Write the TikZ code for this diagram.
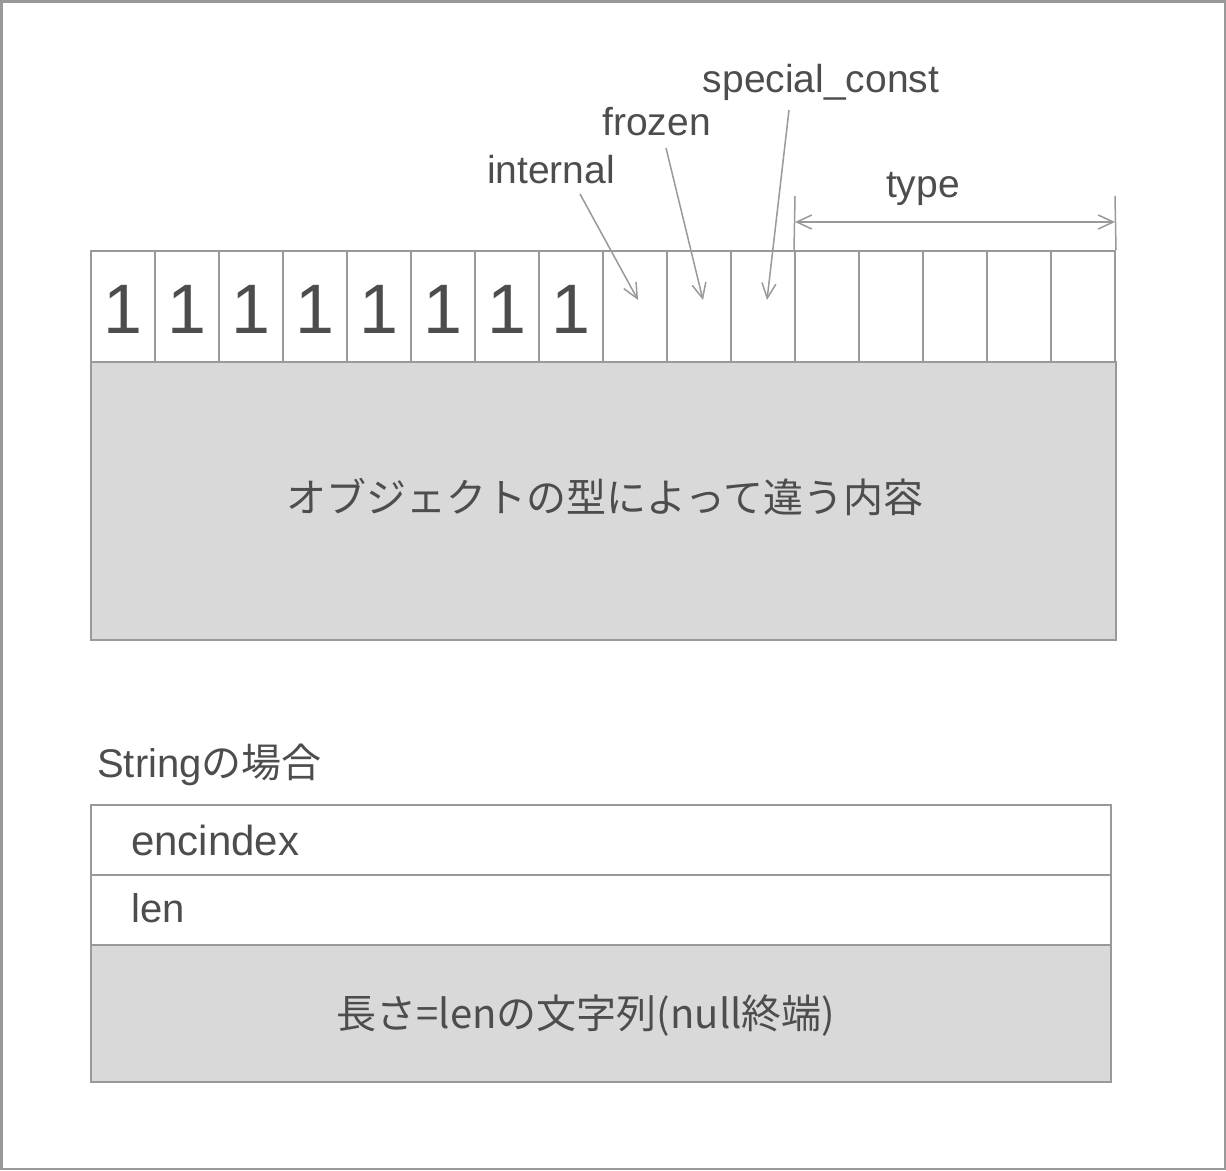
\documentclass[tikz,border=0pt]{standalone}
\usepackage{fontspec}
\setmainfont{Liberation Sans}
\newfontfamily\cjk{Noto Sans CJK JP}
\usetikzlibrary{arrows.meta}
\definecolor{linegray}{HTML}{999999}
\definecolor{fillgray}{HTML}{D9D9D9}
\definecolor{textgray}{HTML}{4D4D4D}
\begin{document}
\begin{tikzpicture}[x=1pt,y=-1pt,
  cell/.style={draw=linegray, line width=2pt, minimum width=64pt, minimum height=111pt, inner sep=0pt},
  graybox/.style={draw=linegray, line width=2pt, fill=fillgray, inner sep=0pt},
  rowbox/.style={draw=linegray, line width=2pt, fill=white, inner sep=0pt},
  txt/.style={text=textgray, inner sep=0pt},
  lbl/.style={txt, font=\fontsize{39}{47}\selectfont},
  big/.style={txt, font=\fontsize{40}{48}\selectfont},
  digit/.style={txt, font=\fontsize{70}{84}\selectfont},
  thinline/.style={draw=linegray, line width=1.5pt},
  arr/.style={thinline, -{Straight Barb[length=15pt, width=14pt, line width=1.5pt]}},
  dim/.style={thinline, {Straight Barb[length=15pt, width=14pt, line width=1.5pt]}-{Straight Barb[length=15pt, width=14pt, line width=1.5pt]}}
]
\useasboundingbox (0,0) rectangle (1226,1170);
\draw[draw=linegray, line width=2.5pt] (1.25,1.25) rectangle (1224.75,1168.75);

% content box
\node[graybox, minimum width=1025pt, minimum height=278pt] (body) at (603.5,501) {};
\node[big, font=\fontsize{40}{48}\selectfont\cjk] (bodytxt) at (605,497) {オブジェクトの型によって違う内容};

% bit cells
\foreach \i in {1,...,16} {
  \node[cell] (c\i) at ({91+64*(\i-0.5)},306.5) {};
}
\foreach \i in {1,...,8} {
  \node[digit, anchor=base] (d\i) at ({91+64*(\i-0.5)},333) {1};
}

% labels and arrows
\node[lbl, anchor=base] (lspecial) at (821,92) {special\_const};
\node[lbl, anchor=base] (lfrozen) at (656.5,135) {frozen};
\node[lbl, anchor=base] (linternal) at (551,183) {internal};
\coordinate (s1) at (580,194);
\coordinate (e1) at (638,300);
\coordinate (s2) at (666,148);
\coordinate (e2) at (703,300);
\coordinate (s3) at (789,110);
\coordinate (e3) at (767,300);
\draw[arr] (s1) -- (e1);
\draw[arr] (s2) -- (e2);
\draw[arr] (s3) -- (e3);

% type dimension
\coordinate (tl) at (795,196);
\coordinate (tr) at (1115,196);
\draw[thinline] (c12.north west) -- (tl);
\draw[thinline] (c16.north east) -- (tr);
\coordinate (tal) at (795,222);
\coordinate (tar) at (1115,222);
\draw[dim] (tal) -- (tar);
\node[lbl, anchor=base] (ltype) at (923,197) {type};

% String section
\node[big, anchor=base west] (strtitle) at (97,777) {String\cjk{の場合}};
\node[rowbox, minimum width=1020pt, minimum height=70pt] (renc) at (601,840) {};
\node[rowbox, minimum width=1020pt, minimum height=70pt] (rlen) at (601,910) {};
\node[graybox, minimum width=1020pt, minimum height=137pt] (rstr) at (601,1013.5) {};
\node[big, font=\fontsize{42}{50}\selectfont, anchor=base west] (tenc) at (131,855) {encindex};
\node[big, anchor=base west] (tlen) at (131,922) {len};
\node[big, anchor=base] (tstr) at (586,1028) {\cjk{長さ}=len\cjk{の文字列}(null\cjk{終端})};
\end{tikzpicture}
\end{document}
